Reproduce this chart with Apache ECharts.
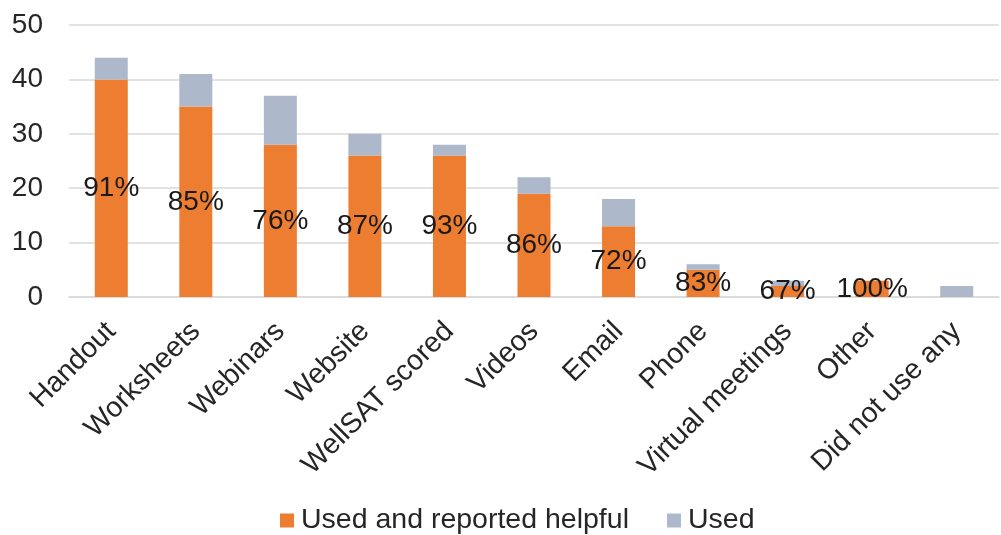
<!DOCTYPE html>
<html>
<head>
<meta charset="utf-8">
<script src="https://cdn.jsdelivr.net/npm/echarts@6/dist/echarts.min.js"></script>
<style>
  html, body { margin: 0; padding: 0; background: #fff; }
  #chart { width: 1001px; height: 535px; }
</style>
</head>
<body>
<div id="chart"></div>
<script>
// categories and values
var categories = ['Handout', 'Worksheets', 'Webinars', 'Website', 'WellSAT scored', 'Videos', 'Email', 'Phone', 'Virtual meetings', 'Other', 'Did not use any'];
var helpful = [40, 35, 28, 26, 26, 19, 13, 5, 2, 3, 0];
var usedTotal = [44, 41, 37, 30, 28, 22, 18, 6, 3, 3, 2];
var yTicks = [0, 10, 20, 30, 40, 50];

// the "Used" part is stacked on top of the helpful part
var usedOnly = usedTotal.map(function (t, i) { return t - helpful[i]; });

var chart = echarts.init(document.getElementById('chart'));
chart.setOption({
    animation: false,
    textStyle: { fontFamily: 'Liberation Sans, Arial, sans-serif' },
    grid: { left: 69, right: 2, top: 25, bottom: 238 },
    legend: {
        bottom: -5,
        left: 275,
        itemWidth: 14,
        itemHeight: 14,
        itemGap: 38,
        icon: 'rect',
        textStyle: { fontSize: 28.5, color: '#262626', padding: [0, 0, 0, 2] },
        data: ['Used and reported helpful', 'Used']
    },
    xAxis: {
        type: 'category',
        data: categories,
        axisTick: { show: false },
        axisLine: { lineStyle: { color: '#d9d9d9', width: 1.5 } },
        axisLabel: { rotate: 45, fontSize: 28.5, color: '#262626', margin: 30, interval: 0 }
    },
    yAxis: {
        type: 'value',
        min: yTicks[0],
        max: yTicks[yTicks.length - 1],
        interval: 10,
        axisLine: { show: false },
        axisTick: { show: false },
        splitLine: { lineStyle: { color: '#d9d9d9', width: 1.5 } },
        axisLabel: { fontSize: 28, color: '#262626', margin: 26 }
    },
    series: [
        {
            name: 'Used and reported helpful',
            type: 'bar',
            stack: 'total',
            barWidth: 33,
            itemStyle: { color: '#ED7D31' },
            label: {
                show: true,
                position: 'inside',
                fontSize: 28,
                color: '#1a1a1a',
                formatter: function (p) {
                    var t = usedTotal[p.dataIndex];
                    if (!p.value) return '';
                    return Math.round(p.value / t * 100) + '%';
                }
            },
            data: helpful
        },
        {
            name: 'Used',
            type: 'bar',
            stack: 'total',
            barWidth: 33,
            itemStyle: { color: '#ADB9CA' },
            data: usedOnly
        }
    ]
});
</script>
</body>
</html>
